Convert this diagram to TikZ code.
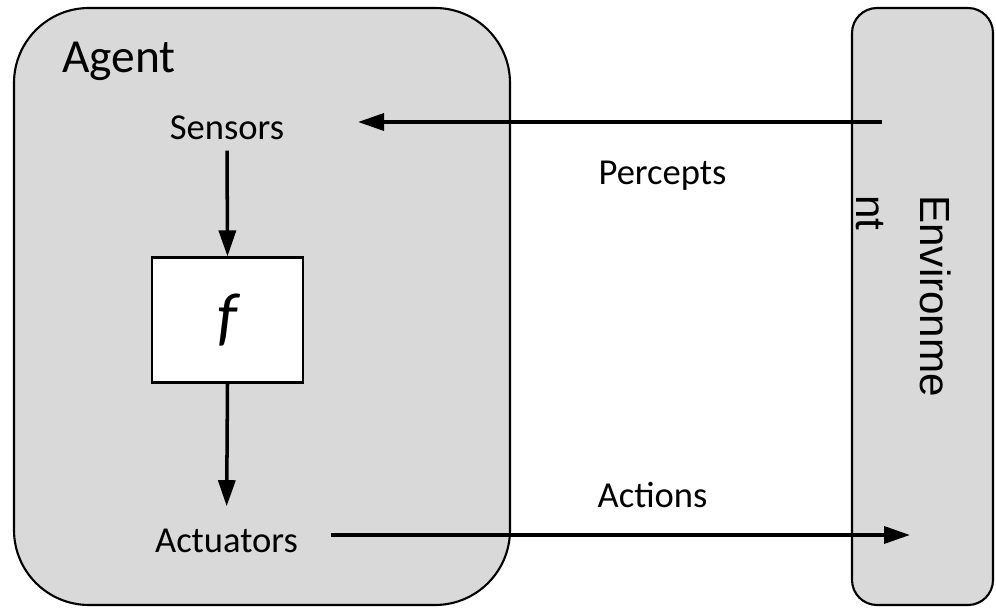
\documentclass[tikz,border=0pt]{standalone}
\usepackage{fontspec}
\setmainfont{Carlito}
\newfontfamily\envfont{Liberation Sans}
\usetikzlibrary{arrows.meta}

\tikzset{
  >={Triangle[length=0.52cm,width=0.34cm]},
  panel/.style={draw=black, line width=1.2pt, fill=black!15},
  flow/.style={->, line width=2pt},
  lbl/.style={inner sep=0pt, font=\fontsize{20.8}{24}\selectfont},
}

\begin{document}
\begin{tikzpicture}
        \useasboundingbox (0,0) rectangle (19.92,12.18);

        % boxes
        \draw[panel, rounded corners=1.5cm] (0.28,0.08) rectangle (10.2,12.02);
        \draw[panel, rounded corners=0.5cm] (17.04,0.08) rectangle (19.86,12.02);
        \node[draw=black, line width=1.2pt, fill=white, inner sep=0pt,
              minimum width=3.02cm, minimum height=2.5cm] (f) at (4.55,5.78)
              {\fontsize{37}{42}\selectfont\itshape f};

        % texts
        \node[inner sep=0pt, anchor=base west, font=\fontsize{27}{32}\selectfont] (agent) at (1.24,10.72) {Agent};
        \node[lbl, anchor=base] (sensors) at (4.54,9.38) {Sensors};
        \node[lbl, anchor=base] (act) at (4.53,1.14) {Actuators};
        \node[lbl, anchor=base] (percepts) at (13.25,8.48) {Percepts};
        \node[lbl, anchor=base] (actions) at (13.05,2.02) {Actions};
        \node[inner sep=0pt, rotate=-90, align=left, anchor=north west,
              font=\envfont\fontsize{24}{36}\selectfont] (env) at (19.02,8.28) {Environme\\nt};

        % arrow ends
        \coordinate (pOut) at (17.64,9.74);
        \coordinate (pIn) at (7.16,9.74);
        \coordinate (aOut) at (6.62,1.48);
        \coordinate (aIn) at (18.2,1.48);

        \draw[flow] (pOut) -- (pIn);
        \draw[flow] (aOut) -- (aIn);
        \draw[flow, shorten <=0.2cm] (sensors.south) -- (f.north);
        \draw[flow, shorten >=0.44cm] (f.south) -- (act.north);
    \end{tikzpicture}
\end{document}
